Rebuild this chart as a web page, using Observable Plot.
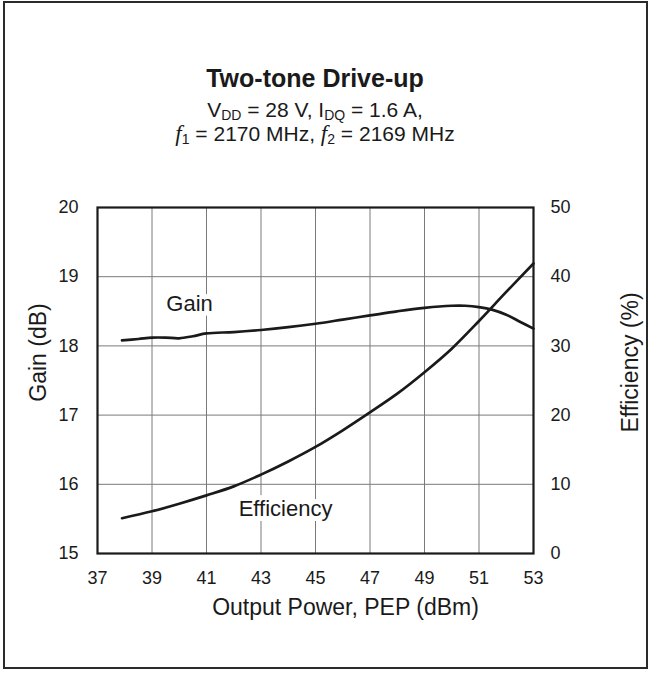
<!DOCTYPE html>
<html>
<head>
<meta charset="utf-8">
<script src="https://cdn.jsdelivr.net/npm/d3@7"></script>
<script src="https://cdn.jsdelivr.net/npm/@observablehq/plot@0.6"></script>
<style>
  html, body { margin: 0; padding: 0; background: #fff; overflow: hidden; }
  body { width: 651px; height: 673px; position: relative; font-family: "Liberation Sans", Arial, sans-serif; color: #1a1a1a; }
  #border { position: absolute; left: 3px; top: 1px; width: 645px; height: 668px; border: 2px solid #2a2a2a; box-sizing: border-box; z-index: 2; pointer-events: none; }
  .t { position: absolute; left: 97px; width: 436px; text-align: center; white-space: nowrap; }
  #title { top: 66px; font-size: 25px; line-height: 25px; font-weight: bold; }
  #sub1 { top: 99px; font-size: 21px; line-height: 21px; }
  #sub2 { top: 123px; font-size: 21px; line-height: 21px; }
  sub { font-size: 14px; vertical-align: -3px; line-height: 0; }
  .f { font-family: "Liberation Serif", "Times New Roman", serif; font-style: italic; font-size: 23px; }
  #chart { position: absolute; left: 0; top: 175px; }
</style>
</head>
<body>
<div id="border"></div>
<div class="t" id="title">Two-tone Drive-up</div>
<div class="t" id="sub1">V<sub>DD</sub> = 28 V, I<sub>DQ</sub> = 1.6 A,</div>
<div class="t" id="sub2"><span class="f">f</span><sub>1</sub> = 2170 MHz, <span class="f">f</span><sub>2</sub> = 2169 MHz</div>
<div id="chart"></div>
<script>
// X axis: Output Power, PEP (dBm)
const xTicks = [37, 39, 41, 43, 45, 47, 49, 51, 53];
// Left axis: Gain (dB)
const gainTicks = [15, 16, 17, 18, 19, 20];
// Right axis: Efficiency (%)
const effTicks = [0, 10, 20, 30, 40, 50];

// Gain curve
const gainPout = [37.9, 38.5, 39, 39.5, 40, 40.5, 41, 42, 43, 44, 45, 46, 47, 48, 49, 50, 50.5, 51, 51.5, 52, 52.5, 53];
const gainDb   = [18.08, 18.10, 18.12, 18.12, 18.11, 18.14, 18.18, 18.20, 18.23, 18.27, 18.32, 18.38, 18.44, 18.50, 18.55, 18.58, 18.58, 18.56, 18.52, 18.45, 18.35, 18.25];

// Efficiency curve
const effPout = [37.9, 39, 40, 41, 42, 43, 44, 45, 46, 47, 48, 49, 50, 51, 52, 53];
const effPct  = [5.1, 6.1, 7.2, 8.4, 9.7, 11.4, 13.3, 15.4, 17.8, 20.4, 23.1, 26.2, 29.6, 33.6, 37.8, 41.9];

// Curve labels (position in Pout dBm, and in gain-axis units)
const labelText = ["Gain", "Efficiency"];
const labelPout = [40.38, 43.9];
const labelGainUnits = [18.61, 15.65];

// map efficiency (0..50 %) onto gain axis (15..20 dB)
const effToGain = e => gainTicks[0] + e * (gainTicks[gainTicks.length - 1] - gainTicks[0]) / (effTicks[effTicks.length - 1] - effTicks[0]);
const effTickPos = effTicks.map(effToGain);

const gainData = gainPout.map((x, i) => ({x, y: gainDb[i]}));
const effData = effPout.map((x, i) => ({x, y: effToGain(effPct[i])}));
const labels = labelText.map((t, i) => ({t, x: labelPout[i], y: labelGainUnits[i]}));

const font = "'Liberation Sans', Arial, sans-serif";
const ink = "#1a1a1a";

const chart = Plot.plot({
  width: 651,
  height: 465,
  marginTop: 32,
  marginBottom: 87,
  marginLeft: 97,
  marginRight: 118,
  style: {fontFamily: font, fontSize: "18px", color: ink, background: "none"},
  x: {domain: [37, 53]},
  y: {domain: [15, 20]},
  marks: [
    Plot.gridX(xTicks.slice(1, -1), {stroke: "#7a7a7a", strokeOpacity: 1, strokeWidth: 1}),
    Plot.gridY(gainTicks.slice(1, -1), {stroke: "#7a7a7a", strokeOpacity: 1, strokeWidth: 1}),
    Plot.axisX(xTicks, {tickSize: 0, tickPadding: 18, label: null, fontSize: 18, tickFormat: d => String(d)}),
    Plot.axisY(gainTicks, {anchor: "left", tickSize: 0, tickPadding: 19, label: null, fontSize: 18, tickFormat: d => String(d)}),
    Plot.axisY(effTickPos, {anchor: "right", tickSize: 0, tickPadding: 17, label: null, fontSize: 18,
      tickFormat: (d) => String(effTicks[effTickPos.findIndex(v => Math.abs(v - d) < 1e-9)])}),
    Plot.text(["Output Power, PEP (dBm)"], {frameAnchor: "bottom", textAnchor: "middle", dx: 30, dy: 61, fontSize: 23, fill: ink}),
    Plot.text(["Gain (dB)"], {frameAnchor: "left", textAnchor: "middle", dx: -59, dy: -28, rotate: -90, fontSize: 23, fill: ink}),
    Plot.text(["Efficiency (%)"], {frameAnchor: "right", textAnchor: "middle", dx: 97, dy: -18, rotate: -90, fontSize: 23, fill: ink}),
    Plot.text(labels, {x: "x", y: "y", text: "t", fontSize: 22, fill: ink, stroke: "white", strokeWidth: 10}),
    Plot.line(gainData, {x: "x", y: "y", stroke: ink, strokeWidth: 2.7, curve: "catmull-rom"}),
    Plot.line(effData, {x: "x", y: "y", stroke: ink, strokeWidth: 2.7, curve: "catmull-rom"}),
    Plot.frame({stroke: ink, strokeWidth: 2.2})
  ]
});
document.getElementById("chart").appendChild(chart);
</script>
</body>
</html>
